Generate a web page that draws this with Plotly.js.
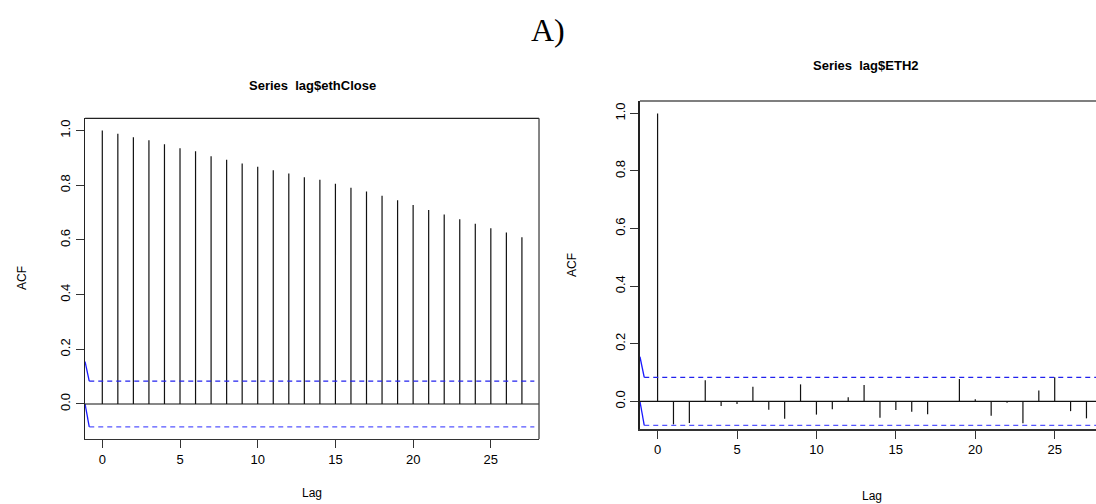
<!DOCTYPE html>
<html>
<head>
<meta charset="utf-8">
<script src="https://cdn.plot.ly/plotly-3.0.1.min.js"></script>
<style>html,body{margin:0;padding:0;background:#fff;}#chart{width:1096px;height:504px;}</style>
</head>
<body>
<div id="chart"></div>
<script>
// ---- data ----
const lags = [0,1,2,3,4,5,6,7,8,9,10,11,12,13,14,15,16,17,18,19,20,21,22,23,24,25,26,27];
const acfEthClose = [1.000,0.988,0.976,0.965,0.950,0.935,0.924,0.906,0.893,0.880,0.868,0.855,0.843,0.829,0.820,0.806,0.791,0.777,0.762,0.745,0.728,0.710,0.693,0.676,0.659,0.643,0.627,0.610];
const acfEth2 = [1.000,-0.080,-0.075,0.073,-0.016,-0.009,0.051,-0.029,-0.060,0.059,-0.046,-0.027,0.014,0.057,-0.057,-0.030,-0.036,-0.045,0.001,0.078,0.007,-0.050,-0.005,-0.076,0.038,0.084,-0.034,-0.059];
const ciBound = 0.0835;
const ciStartLag = -0.84;
const ciLeftEdgeLag = -1.11;
const ciTopStart = 0.155;
const xTicks = [0,5,10,15,20,25];
const yTicks = [0.0,0.2,0.4,0.6,0.8,1.0];
const yTickText = ['0.0','0.2','0.4','0.6','0.8','1.0'];
const panelTitles = ['Series  lag$ethClose', 'Series  lag$ETH2'];
const figTitle = 'A)';

function spikes(xs, ys, xa, ya){
  const x=[], y=[];
  xs.forEach((l,i)=>{ x.push(l,l,null); y.push(0,ys[i],null); });
  return {x, y, xaxis:xa, yaxis:ya, mode:'lines', type:'scatter', line:{color:'#111', width:1.2}, hoverinfo:'skip', showlegend:false};
}
function ciTraces(xa, ya, xEnd){
  return [
    {x:[ciStartLag, xEnd], y:[ciBound, ciBound], xaxis:xa, yaxis:ya, mode:'lines', line:{color:'#2222ee', width:1.2, dash:'5px,4px'}, showlegend:false, hoverinfo:'skip'},
    {x:[ciStartLag, xEnd], y:[-ciBound, -ciBound], xaxis:xa, yaxis:ya, mode:'lines', line:{color:'#5555ff', width:1.2, dash:'5px,4px'}, showlegend:false, hoverinfo:'skip'},
    {x:[ciLeftEdgeLag, ciStartLag], y:[ciTopStart, ciBound], xaxis:xa, yaxis:ya, mode:'lines', line:{color:'#1a1aff', width:1.3}, showlegend:false, hoverinfo:'skip'},
    {x:[ciLeftEdgeLag, ciStartLag], y:[0, -ciBound], xaxis:xa, yaxis:ya, mode:'lines', line:{color:'#1a1aff', width:1.3}, showlegend:false, hoverinfo:'skip'}
  ];
}

const data = [
  spikes(lags, acfEthClose, 'x', 'y'),
  ...ciTraces('x','y', 27.8),
  spikes(lags, acfEth2, 'x2', 'y2'),
  ...ciTraces('x2','y2', 27.6)
];

const tickFont = {family:'Liberation Sans, Arial, sans-serif', size:13, color:'#000'};
function xAxis(domain, range, anchor){
  return {domain, range, anchor, tickmode:'array', tickvals:xTicks, ticktext:xTicks.map(String),
    ticks:'outside', ticklen:8, tickcolor:'#333', tickwidth:1, showgrid:false, zeroline:false,
    showline:true, linecolor:'#333', linewidth:1.5, tickfont:tickFont, fixedrange:true};
}
function yAxis(domain, range, anchor){
  return {domain, range, anchor, tickmode:'array', tickvals:yTicks, ticktext:yTickText, tickangle:-90,
    ticks:'outside', ticklen:8, tickcolor:'#333', tickwidth:1, showgrid:false, zeroline:false,
    showline:true, linecolor:'#222', linewidth:1.5, tickfont:tickFont, fixedrange:true};
}

const labFont = {family:'Liberation Sans, Arial, sans-serif', size:12, color:'#000'};
const titFont = {family:'Liberation Sans, Arial, sans-serif', size:13, color:'#000', weight:'bold'};

const layout = {
  width:1096, height:504,
  margin:{l:0, r:0, t:0, b:0},
  paper_bgcolor:'#fff', plot_bgcolor:'#fff',
  showlegend:false,
  xaxis: xAxis([0.0776, 0.4918], [-1.11, 28.1], 'y'),
  yaxis: yAxis([0.129, 0.7653], [-0.128, 1.045], 'x'),
  xaxis2: xAxis([0.5839, 1.0], [-1.11, 27.6], 'y2'),
  yaxis2: yAxis([0.1488, 0.7996], [-0.096, 1.043], 'x2'),
  shapes:[
    {type:'line', xref:'x domain', yref:'y', x0:0, x1:1, y0:0, y1:0, line:{color:'#111', width:1.2}},
    {type:'line', xref:'x2 domain', yref:'y2', x0:0, x1:1, y0:0, y1:0, line:{color:'#111', width:1.2}},
    {type:'line', xref:'x domain', yref:'y domain', x0:0, x1:1, y0:1, y1:1, line:{color:'#222', width:1.3}},
    {type:'line', xref:'x domain', yref:'y domain', x0:1, x1:1, y0:0, y1:1, line:{color:'#444', width:1.3}},
    {type:'line', xref:'x2 domain', yref:'y2 domain', x0:0, x1:1, y0:1, y1:1, line:{color:'#555', width:1.5}}
  ],
  annotations:[
    {text:figTitle, xref:'paper', yref:'paper', x:548/1096, y:1-30/504, xanchor:'center', yanchor:'middle', showarrow:false,
     font:{family:'Liberation Serif, Times New Roman, serif', size:32, color:'#000'}},
    {text:panelTitles[0], xref:'paper', yref:'paper', x:312/1096, y:1-85/504, xanchor:'center', yanchor:'middle', showarrow:false, font:titFont},
    {text:panelTitles[1], xref:'paper', yref:'paper', x:866/1096, y:1-66/504, xanchor:'center', yanchor:'middle', showarrow:false, font:titFont},
    {text:'ACF', xref:'paper', yref:'paper', x:22/1096, y:1-278/504, xanchor:'center', yanchor:'middle', textangle:-90, showarrow:false, font:labFont},
    {text:'ACF', xref:'paper', yref:'paper', x:572/1096, y:1-265/504, xanchor:'center', yanchor:'middle', textangle:-90, showarrow:false, font:labFont},
    {text:'Lag', xref:'paper', yref:'paper', x:312/1096, y:1-493/504, xanchor:'center', yanchor:'middle', showarrow:false, font:labFont},
    {text:'Lag', xref:'paper', yref:'paper', x:872/1096, y:1-496/504, xanchor:'center', yanchor:'middle', showarrow:false, font:labFont}
  ]
};

Plotly.newPlot('chart', data, layout, {staticPlot:true, displayModeBar:false});
</script>
</body>
</html>
